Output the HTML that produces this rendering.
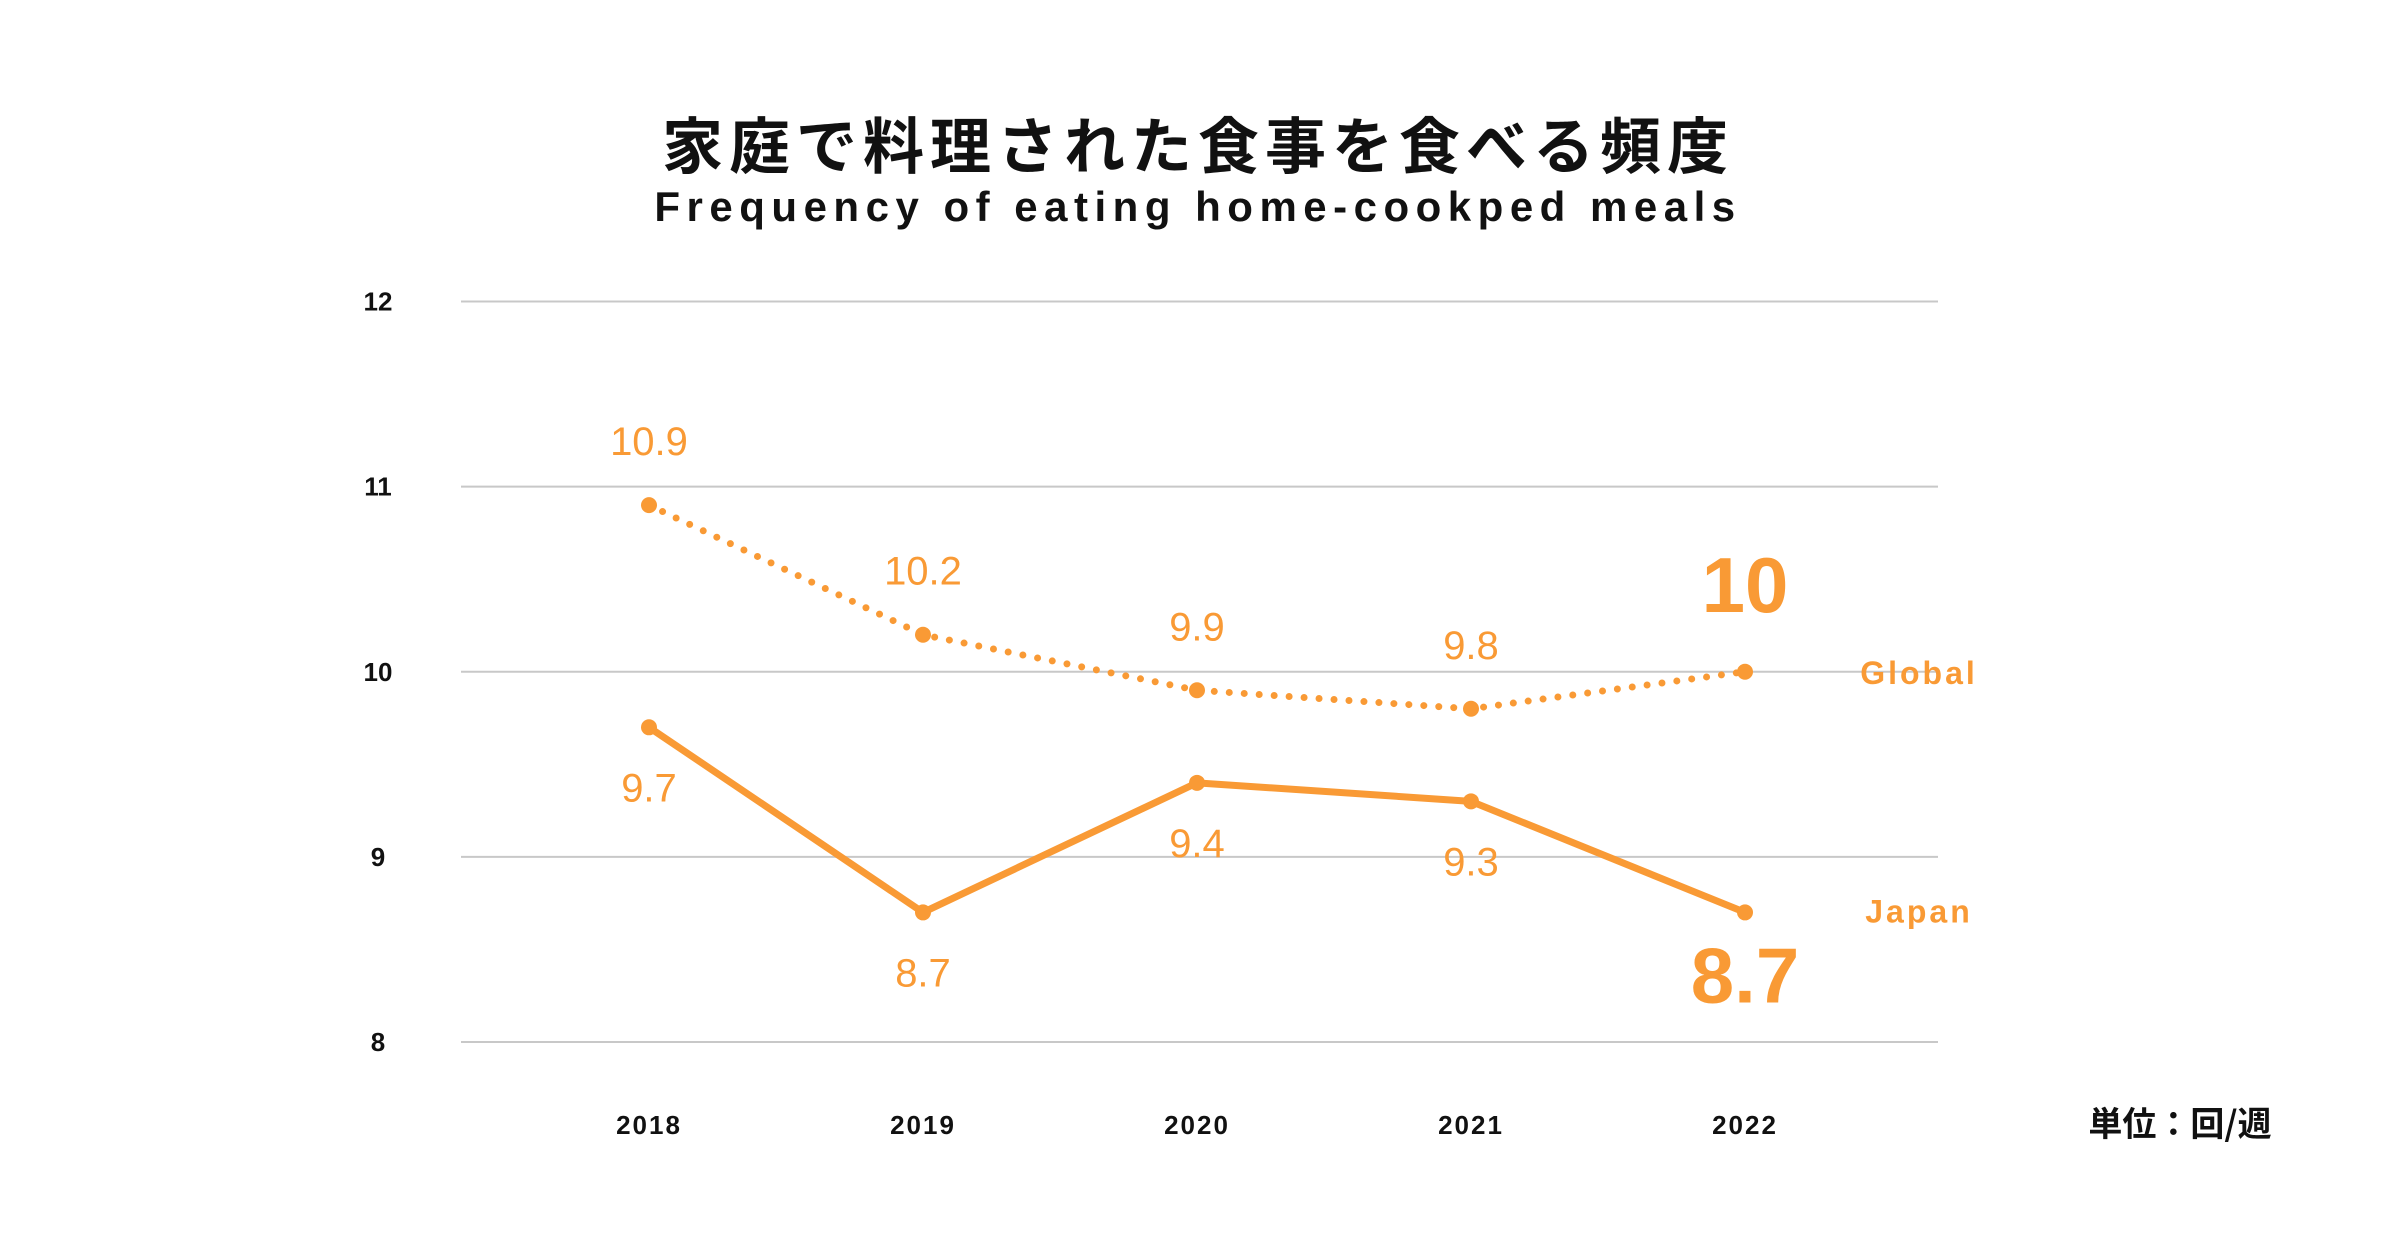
<!DOCTYPE html>
<html><head><meta charset="utf-8"><style>
html,body{margin:0;padding:0;background:#fff;}
svg{display:block;}
text{font-family:"Liberation Sans","Noto Sans CJK JP",sans-serif;}
</style></head><body>
<svg id="chart" width="2400" height="1260" viewBox="0 0 2400 1260">
<text x="1198" y="168" text-anchor="middle" font-size="61" font-weight="bold" fill="#111" letter-spacing="6" style='font-family:"Noto Sans CJK JP",sans-serif'>家庭で料理された食事を食べる頻度</text>
<text x="1198" y="221" text-anchor="middle" font-size="42" font-weight="bold" fill="#111" letter-spacing="6.5">Frequency of eating home-cookped meals</text>
<g id="grid"></g><g id="series"></g>
<text x="2180" y="1136" text-anchor="middle" font-size="34" font-weight="bold" fill="#111" style='font-family:"Noto Sans CJK JP",sans-serif'>単位：回/週</text>
</svg>
<script>
const years=["2018","2019","2020","2021","2022"];
const globalVals=[10.9,10.2,9.9,9.8,10];
const japanVals=[9.7,8.7,9.4,9.3,8.7];
const yTicks=[8,9,10,11,12];
const NS="http://www.w3.org/2000/svg";
const C="#F99A35";
function x(i){return 649+i*(1745-649)/4;}
function y(v){return 1042-(v-8)*(1042-301.5)/4;}
function mk(tag,attrs,parent,txt){const e=document.createElementNS(NS,tag);for(const k in attrs)e.setAttribute(k,attrs[k]);if(txt!==undefined)e.textContent=txt;parent.appendChild(e);return e;}
const grid=document.getElementById('grid'),ser=document.getElementById('series');
yTicks.forEach(t=>{
 const l=mk('line',{x1:461,x2:1938,y1:y(t),y2:y(t),stroke:'#c8c8c8','stroke-width':2},grid);
 
 
 const tx=mk('text',{x:378,y:y(t)+9,'text-anchor':'middle','font-size':26,'font-weight':'bold',fill:'#111'},grid,String(t));
 
 
});
years.forEach((yr,i)=>{
 const tx=mk('text',{x:x(i),y:1134,'text-anchor':'middle','font-size':26,'font-weight':'bold',fill:'#111','letter-spacing':2},grid,yr);
 
 
});
function draw(vals,name,dotted,off,bigOff){
 const pts=vals.map((v,i)=>x(i)+','+y(v)).join(' ');
 const pl=mk('polyline',{points:pts,fill:'none',stroke:C,'stroke-width':7,'stroke-linecap':'round','stroke-linejoin':'round','stroke-dasharray':dotted?'0 15':'none'},ser);
 
 
 vals.forEach((v,i)=>{
  const c=mk('circle',{cx:x(i),cy:y(v),r:8,fill:C},ser);
  
  
  const last=i===vals.length-1;
  const t=mk('text',{x:x(i),y:y(v)+(last?bigOff:off),'text-anchor':'middle','font-size':last?78:40,'font-weight':last?'bold':'normal',fill:C},ser,String(v));
  
  
 });
}
draw(globalVals,'global',true,-50,-60);
draw(japanVals,'japan',false,74,90);
const lg=mk('text',{x:1919,y:y(globalVals[4])+12,'text-anchor':'middle','font-size':32,'font-weight':'bold',fill:C,'letter-spacing':3},ser,'Global');


const lj=mk('text',{x:1919,y:y(japanVals[4])+10,'text-anchor':'middle','font-size':32,'font-weight':'bold',fill:C,'letter-spacing':3},ser,'Japan');


</script>
</body></html>
